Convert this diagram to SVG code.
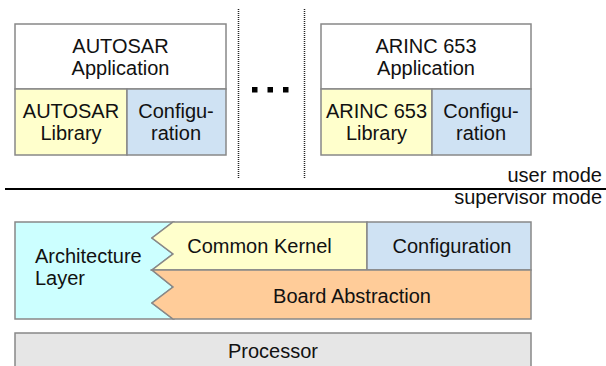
<svg xmlns="http://www.w3.org/2000/svg" width="606" height="366" viewBox="0 0 606 366">
<style>
.b{stroke:#888;stroke-width:1.5}
.t{font-family:"Liberation Sans",Arial,sans-serif;font-size:20px;fill:#111;text-anchor:middle}
.l{text-anchor:start}
.e{text-anchor:end}
.w{fill:#fff}.y{fill:#ffffcc}.c{fill:#cfe2f3}.a{fill:#ccffff}.o{fill:#ffcc99}.g{fill:#e6e6e6}
</style>
<rect width="606" height="366" fill="#fff"/>
<g id="autosar-app">
<rect class="b w" x="15" y="24" width="211" height="65"/>
<text class="t" x="120.5" y="53">AUTOSAR</text>
<text class="t" x="120.5" y="75">Application</text>
</g>
<g id="autosar-lib">
<rect class="b y" x="15" y="89" width="112" height="66"/>
<text class="t" x="71" y="118">AUTOSAR</text>
<text class="t" x="71" y="140">Library</text>
</g>
<g id="autosar-config">
<rect class="b c" x="127" y="89" width="99" height="66"/>
<text class="t" x="176" y="118">Configu-</text>
<text class="t" x="176" y="140">ration</text>
</g>
<g id="ellipsis">
<rect x="252" y="87" width="5.5" height="5.5" fill="#000"/>
<rect x="267.5" y="87" width="5.5" height="5.5" fill="#000"/>
<rect x="283" y="87" width="5.5" height="5.5" fill="#000"/>
</g>
<g id="arinc-app">
<rect class="b w" x="321" y="24" width="210" height="65"/>
<text class="t" x="426" y="53">ARINC 653</text>
<text class="t" x="426" y="75">Application</text>
</g>
<g id="arinc-lib">
<rect class="b y" x="321" y="89" width="111" height="66"/>
<text class="t" x="376.5" y="118">ARINC 653</text>
<text class="t" x="376.5" y="140">Library</text>
</g>
<g id="arinc-config">
<rect class="b c" x="432" y="89" width="99" height="66"/>
<text class="t" x="481" y="118">Configu-</text>
<text class="t" x="481" y="140">ration</text>
</g>
<g id="connectors">
<line x1="238.5" y1="9" x2="238.5" y2="178" stroke="#222" stroke-width="1.5" stroke-dasharray="1 1"/>
<line x1="304.5" y1="9" x2="304.5" y2="178" stroke="#222" stroke-width="1.5" stroke-dasharray="1 1"/>
<line x1="5" y1="189" x2="606" y2="189" stroke="#000" stroke-width="2"/>
</g>
<g id="mode-labels">
<text class="t e" x="602" y="182">user mode</text>
<text class="t e" x="602" y="204">supervisor mode</text>
</g>
<g id="architecture-layer">
<polygon class="b a" points="15,222 173,222 152,238 173,254 152,270 173,287 152,303 173,319 15,319"/>
<text class="t l" x="35" y="263">Architecture</text>
<text class="t l" x="35" y="285">Layer</text>
</g>
<g id="common-kernel">
<polygon class="b y" points="173,222 367,222 367,270 152,270 173,254 152,238"/>
<text class="t" x="259.5" y="253">Common Kernel</text>
</g>
<g id="kernel-config">
<rect class="b c" x="367" y="222" width="164" height="48"/>
<text class="t" x="452" y="253">Configuration</text>
</g>
<g id="board-abstraction">
<polygon class="b o" points="152,270 531,270 531,319 173,319 152,303 173,287"/>
<text class="t" x="352" y="303">Board Abstraction</text>
</g>
<g id="processor">
<rect class="b g" x="15" y="333" width="516" height="40"/>
<text class="t" x="273" y="358">Processor</text>
</g>
</svg>
